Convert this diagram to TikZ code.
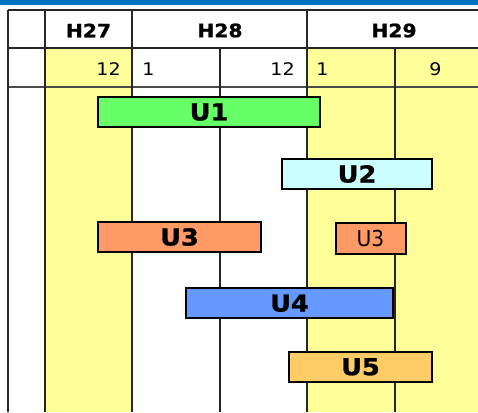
\documentclass[tikz,border=0pt]{standalone}
\usepackage{graphicx}
\usepackage{fontspec}
\setmainfont{DejaVu Sans}
\newfontfamily\heavy[FakeBold=1.2]{DejaVu Sans Bold}
\definecolor{topblue}{HTML}{0070C0}
\definecolor{colyellow}{HTML}{FFFF99}
\definecolor{cu1}{HTML}{66FF66}
\definecolor{cu2}{HTML}{CCFFFF}
\definecolor{cu3}{HTML}{FF9966}
\definecolor{cu4}{HTML}{6699FF}
\definecolor{cu5}{HTML}{FFCC66}
\newcommand\sxw[1]{\scalebox{1.1}[1]{#1}}
\newcommand\sxn[1]{\scalebox{0.92}[1]{#1}}
\begin{document}
\begin{tikzpicture}[x=0.75pt,y=-0.75pt,
  gridline/.style={draw=black!85, line width=0.9pt},
  bar/.style={draw=black, line width=1.5pt, inner sep=0pt,
    font=\fontsize{17.5}{17.5}\heavy},
  hdr/.style={font=\fontsize{13.8}{13.8}\heavy, inner sep=0pt},
  num/.style={font=\fontsize{13}{13}\selectfont, inner sep=0pt}]
\useasboundingbox (0,0) rectangle (478,412);
\fill[white] (0,0) rectangle (478,412);
\fill[topblue] (0,0) rectangle (478,5);
\fill[colyellow] (45,48) rectangle (132,412);
\fill[colyellow] (307,48) rectangle (478,412);
% grid
\draw[gridline] (8,10) -- (478,10);
\draw[gridline] (8,48) -- (478,48);
\draw[gridline, draw=black!70, line width=1.1pt] (8,87) -- (478,87);
\draw[gridline] (8,10) -- (8,412);
\draw[gridline] (45,10) -- (45,412);
\draw[gridline] (132,10) -- (132,412);
\draw[gridline] (220,48) -- (220,412);
\draw[gridline] (307,10) -- (307,412);
\draw[gridline] (395,48) -- (395,412);
% headers
\node[hdr] (h27) at (88.5,30.5) {\sxw{H27}};
\node[hdr] (h28) at (220,30.5) {\sxw{H28}};
\node[hdr] (h29) at (394,30.5) {\sxw{H29}};
\node[num, anchor=east] (m1) at (121,69) {\sxw{12}};
\node[num, anchor=west] (m2) at (142,69) {\sxw{1}};
\node[num, anchor=east] (m3) at (295,69) {\sxw{12}};
\node[num, anchor=west] (m4) at (316,69) {\sxw{1}};
\node[num] (m5) at (435.5,69) {\sxw{9}};
% bars
\node[bar, fill=cu1, minimum width=222*0.75pt, minimum height=30.5*0.75pt] (u1) at (209,112) {\sxw{U1}};
\node[bar, fill=cu2, minimum width=150*0.75pt, minimum height=30.5*0.75pt] (u2) at (357,174) {\sxw{U2}};
\node[bar, fill=cu3, minimum width=163*0.75pt, minimum height=30.5*0.75pt] (u3a) at (179.5,237) {\sxw{U3}};
\node[bar, fill=cu3, minimum width=70*0.75pt, minimum height=30.5*0.75pt,
  font=\fontsize{16.5}{16.5}\selectfont] (u3b) at (370.5,238.3) {\sxn{U3}};
\node[bar, fill=cu4, minimum width=207*0.75pt, minimum height=30.5*0.75pt] (u4) at (289.5,303.2) {\sxw{U4}};
\node[bar, fill=cu5, minimum width=143*0.75pt, minimum height=30.5*0.75pt] (u5) at (360.5,366.8) {\sxw{U5}};
\end{tikzpicture}
\end{document}
